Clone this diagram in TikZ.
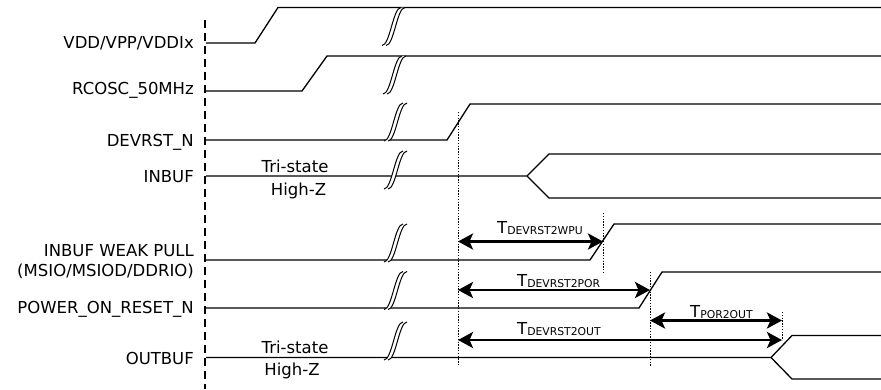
\documentclass[tikz,border=0pt]{standalone}
\usepackage{fontspec}
\setmainfont{DejaVu Sans}
\usetikzlibrary{arrows.meta}
\tikzset{
  sig/.style={line width=1.3pt, line join=miter},
  lbl/.style={font=\fontsize{16.5}{19}\selectfont, inner sep=0pt},
  tlbl/.style={font=\fontsize{16.5}{19}\selectfont, inner sep=0pt, anchor=base west},
  tim/.style={line width=2.8pt, {Stealth[length=15pt,width=16pt,inset=3.5pt]}-{Stealth[length=15pt,width=16pt,inset=3.5pt]}},
  guide/.style={line width=0.9pt, dash pattern=on 1.4pt off 1.4pt},
  startline/.style={line width=1.3pt, dash pattern=on 8pt off 5pt},
  brkmark/.pic={
    \fill[white] (0,0) .. controls (8,0) and (11,-38) .. (19,-38) -- (23,-38)
       .. controls (15,-38) and (12,0) .. (4,0) -- cycle;
    \draw[line width=1pt] (0,0) .. controls (8,0) and (11,-38) .. (19,-38);
    \draw[line width=1pt] (4,0) .. controls (12,0) and (15,-38) .. (23,-38);
  }
}
\newcommand{\tsub}[1]{T\raisebox{-1pt}{\fontsize{10.8}{12}\selectfont #1}}
\begin{document}
\begin{tikzpicture}[x=1pt,y=-1pt]
\useasboundingbox (0,0) rectangle (881,389);

% start line
\coordinate (st) at (205,20);
\coordinate (sb) at (205,389);
\draw[startline] (st) -- (sb);

% signal labels
\node[lbl, anchor=base east] (lvdd) at (194,48) {VDD/VPP/VDDIx};
\node[lbl, anchor=base east] (lrc) at (194,94) {RCOSC\_50MHz};
\node[lbl, anchor=base east] (ldev) at (194,146) {DEVRST\_N};
\node[lbl, anchor=base east] (lin) at (194,182) {INBUF};
\node[lbl, anchor=base east] (lwp1) at (194,256) {INBUF WEAK PULL};
\node[lbl, anchor=base east] (lwp2) at (194,276) {(MSIO/MSIOD/DDRIO)};
\node[lbl, anchor=base east] (lpor) at (194,313) {POWER\_ON\_RESET\_N};
\node[lbl, anchor=base east] (lout) at (194,364) {OUTBUF};

% waveforms
\draw[sig] (206,43) -- (255,43) -- (278,7.5) -- (881,7.5);
\draw[sig] (206,91) -- (302,91) -- (327,56) -- (881,56);
\draw[sig] (206,140) -- (447,140) -- (470,104) -- (881,104);
\draw[sig] (206,176) -- (527,176) -- (549,154) -- (881,154);
\draw[sig] (527,176) -- (549,198) -- (881,198);
\draw[sig] (206,260) -- (590,260) -- (614,224) -- (881,224);
\draw[sig] (206,308) -- (639,308) -- (662,272) -- (881,272);
\draw[sig] (206,357.5) -- (771,357.5) -- (792,335.5) -- (881,335.5);
\draw[sig] (771,357.5) -- (792,379) -- (881,379);

% break marks
\pic at (382,45.5) {brkmark};
\pic at (383,94) {brkmark};
\pic at (384,141) {brkmark};
\pic at (384,189) {brkmark};
\pic at (384,262) {brkmark};
\pic at (384,309.5) {brkmark};
\pic at (384,360) {brkmark};

% state texts
\node[lbl, anchor=base] (ts1) at (295,172) {Tri-state};
\node[lbl, anchor=base] (hz1) at (298.5,195) {High-Z};
\node[lbl, anchor=base] (ts2) at (295,353) {Tri-state};
\node[lbl, anchor=base] (hz2) at (292,375.5) {High-Z};

% guide lines
\coordinate (g1t) at (458,112);
\coordinate (g1b) at (458,366);
\coordinate (g2t) at (603,213);
\coordinate (g2b) at (603,272);
\coordinate (g3t) at (650,272);
\coordinate (g3b) at (650,366);
\coordinate (g4t) at (782,312);
\coordinate (g4b) at (782,340);
\draw[guide] (g1t) -- (g1b);
\draw[guide] (g2t) -- (g2b);
\draw[guide] (g3t) -- (g3b);
\draw[guide] (g4t) -- (g4b);

% timing arrows
\coordinate (a1l) at (458,241.5);
\coordinate (a1r) at (603,241.5);
\coordinate (a2l) at (458,290);
\coordinate (a2r) at (650,290);
\coordinate (a3l) at (650,320.5);
\coordinate (a3r) at (782,320.5);
\coordinate (a4l) at (458,340);
\coordinate (a4r) at (782,340);
\draw[tim] (a1l) -- (a1r);
\draw[tim] (a2l) -- (a2r);
\draw[tim] (a3l) -- (a3r);
\draw[tim] (a4l) -- (a4r);

\node[tlbl] (t1) at (497,233) {\tsub{DEVRST2WPU}};
\node[tlbl] (t2) at (517,286.5) {\tsub{DEVRST2POR}};
\node[tlbl] (t3) at (690,317) {\tsub{POR2OUT}};
\node[tlbl] (t4) at (517,334) {\tsub{DEVRST2OUT}};
\end{tikzpicture}
\end{document}
